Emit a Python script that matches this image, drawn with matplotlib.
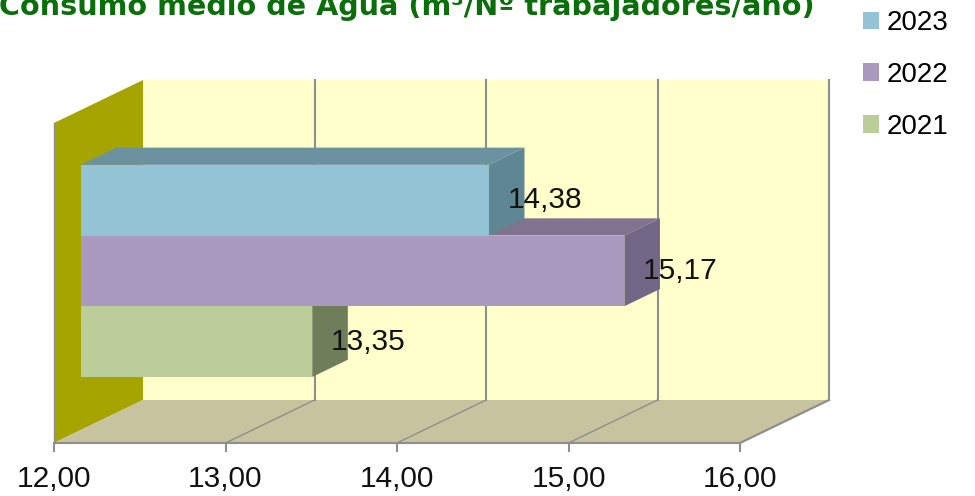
import matplotlib
matplotlib.use("Agg")
import matplotlib.pyplot as plt
from matplotlib.patches import Polygon, Rectangle, Patch

# ---- data ----
years = ["2021", "2022", "2023"]
values = [13.35, 15.17, 14.38]
value_labels = ["13,35", "15,17", "14,38"]
xticks = [12, 13, 14, 15, 16]
xtick_labels = ["12,00", "13,00", "14,00", "15,00", "16,00"]
title = "Consumo medio de Agua (m³/Nº trabajadores/año)"

# ---- style ----
front_cols = ["#BBCD98", "#AA9ABF", "#93C3D5"]
top_cols = ["#8E9D72", "#807390", "#6C919F"]
side_cols = ["#6E7D5A", "#736787", "#5F8693"]
wall_col = "#FFFFCC"
floor_col = "#C6C39E"
side_wall_col = "#A6A400"
grid_col = "#8E8E8E"

W, H = 975, 496
fig = plt.figure(figsize=(W / 100, H / 100), dpi=100)
# axes = front plane of the 3D box
ax_l, ax_r, ax_b, ax_t = 54, 740, 443, 123
ax = fig.add_axes([ax_l / W, (H - ax_b) / H, (ax_r - ax_l) / W, (ax_b - ax_t) / H])
xmin, xmax = 12, 16
ylo, yhi = -1.252, 3.274
ax.set_xlim(xmin, xmax)
ax.set_ylim(ylo, yhi)
ax.patch.set_visible(False)

# depth offsets (data units) for the full depth of the box
DX, DY = 0.519, 0.608
d0, d1 = 0.3, 0.7  # bar depth range

def off(x, y, d):
    return (x + d * DX, y + d * DY)

kw = dict(clip_on=False)
# back wall
ax.add_patch(Polygon([off(xmin, ylo, 1), off(xmax, ylo, 1), off(xmax, yhi, 1), off(xmin, yhi, 1)],
                     closed=True, facecolor=wall_col, edgecolor="none", zorder=1, **kw))
# left wall
ax.add_patch(Polygon([off(xmin, ylo, 0), off(xmin, ylo, 1), off(xmin, yhi, 1), off(xmin, yhi, 0)],
                     closed=True, facecolor=side_wall_col, edgecolor="none", zorder=1, **kw))
# floor
ax.add_patch(Polygon([off(xmin, ylo, 0), off(xmax, ylo, 0), off(xmax, ylo, 1), off(xmin, ylo, 1)],
                     closed=True, facecolor=floor_col, edgecolor="none", zorder=1, **kw))
# gridlines on back wall and floor
for v in xticks:
    x0, y0 = off(v, ylo, 0)
    x1, y1 = off(v, ylo, 1)
    x2, y2 = off(v, yhi, 1)
    if v != xmin:
        ax.plot([x1, x2], [y1, y2], color=grid_col, lw=1.5, zorder=2, **kw)
        ax.plot([x0, x1], [y0, y1], color=grid_col, lw=1.0, zorder=2, **kw)
# left wall front edge
ax.plot([xmin, xmin], [ylo, yhi], color=grid_col, lw=1.0, zorder=2, **kw)

# bars (bottom category first so upper bars overlap correctly)
handles = []
for i, (yr, v) in enumerate(zip(years, values)):
    z = 3 + i
    top = Polygon([off(xmin, i + 0.5, d0), off(v, i + 0.5, d0), off(v, i + 0.5, d1), off(xmin, i + 0.5, d1)],
                  closed=True, facecolor=top_cols[i], edgecolor="none", zorder=z, **kw)
    side = Polygon([off(v, i - 0.5, d0), off(v, i - 0.5, d1), off(v, i + 0.5, d1), off(v, i + 0.5, d0)],
                   closed=True, facecolor=side_cols[i], edgecolor="none", zorder=z, **kw)
    fx, fy = off(xmin, i - 0.5, d0)
    front = Rectangle((fx, fy), v - xmin, 1.0, facecolor=front_cols[i], edgecolor="none",
                      zorder=z, **kw)
    ax.add_patch(top)
    ax.add_patch(side)
    ax.add_patch(front)
    lx, ly = off(v, i, d0)
    ax.annotate(value_labels[i], (lx, ly), xytext=(13.5, 0), textcoords="offset points",
                ha="left", va="center", fontsize=21.5, family="Liberation Sans",
                color="#111111", zorder=10)
    handles.append(Patch(facecolor=front_cols[i], edgecolor="none", label=yr))

# axis styling
for s in ["top", "right", "left"]:
    ax.spines[s].set_visible(False)
ax.spines["bottom"].set_color(grid_col)
ax.spines["bottom"].set_linewidth(1.5)
ax.spines["bottom"].set_zorder(2)
ax.set_yticks([])
ax.set_xticks(xticks)
ax.set_xticklabels(xtick_labels, fontsize=21.5, family="Liberation Sans", color="#111111")
ax.tick_params(axis="x", direction="out", length=6.5, width=1.5, color=grid_col, pad=9)

# floor right edge
x0, y0 = off(xmax, ylo, 0)
x1, y1 = off(xmax, ylo, 1)
ax.plot([x0, x1], [y0, y1], color=grid_col, lw=1.5, zorder=2, **kw)

# legend
leg = fig.legend(handles=handles[::-1], loc="upper left", bbox_to_anchor=(863 / W, 1 - 10 / H),
                 frameon=False, prop={"family": "Liberation Sans", "size": 20},
                 handlelength=0.58, handleheight=0.58, handletextpad=0.28, labelspacing=0.93,
                 borderaxespad=0, borderpad=0)

# title
fig.text(407 / W, (H - 15) / H, title, ha="center", va="baseline", fontsize=20.6,
         fontweight="bold", family="DejaVu Sans", color="#0A6E0A")

fig.savefig("out.png", dpi=100)
